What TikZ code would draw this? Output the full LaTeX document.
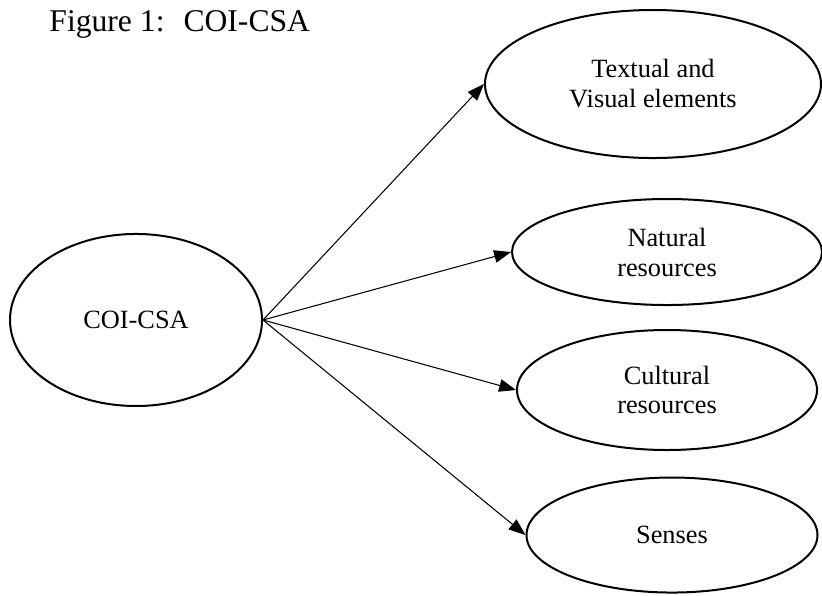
\documentclass[tikz,border=0pt]{standalone}
\usepackage{fontspec}
\setmainfont{Liberation Serif}
\usetikzlibrary{arrows.meta}
\usetikzlibrary{shapes.geometric}

\begin{document}
\begin{tikzpicture}[oval/.style={ellipse,draw=black,line width=0.95pt,inner sep=0pt,align=center,font=\fontsize{12.5}{14.2}\selectfont},
                    link/.style={-{Triangle[length=8pt,width=6pt]},line width=0.5pt}]
\useasboundingbox (0,0) rectangle (13.7,-9.933);
\node at (0.817,-0.533) (title) [anchor=base west,inner sep=0pt,font=\fontsize{15}{18}\selectfont] {Figure 1:\hspace{0.6em}COI-CSA};
\node at (2.267,-5.333) (coi) [oval,minimum width=4.2cm,minimum height=2.867cm] {COI-CSA};
\node at (10.883,-1.4) (textual) [oval,minimum width=5.6cm,minimum height=2.467cm] {Textual and\\Visual elements};
\node at (11.117,-4.2) (natural) [oval,minimum width=5.167cm,minimum height=1.767cm] {Natural\\resources};
\node at (11.117,-6.5) (cultural) [oval,minimum width=5.0cm,minimum height=2.0cm] {Cultural\\resources};
\node at (11.2,-8.917) (senses) [oval,minimum width=4.85cm,minimum height=1.917cm] {Senses};
\draw [link] (coi.east) -- (textual.west);
\draw [link] (coi.east) -- (natural.west);
\draw [link] (coi.east) -- (cultural.west);
\draw [link] (coi.east) -- (senses.west);
\end{tikzpicture}
\end{document}
